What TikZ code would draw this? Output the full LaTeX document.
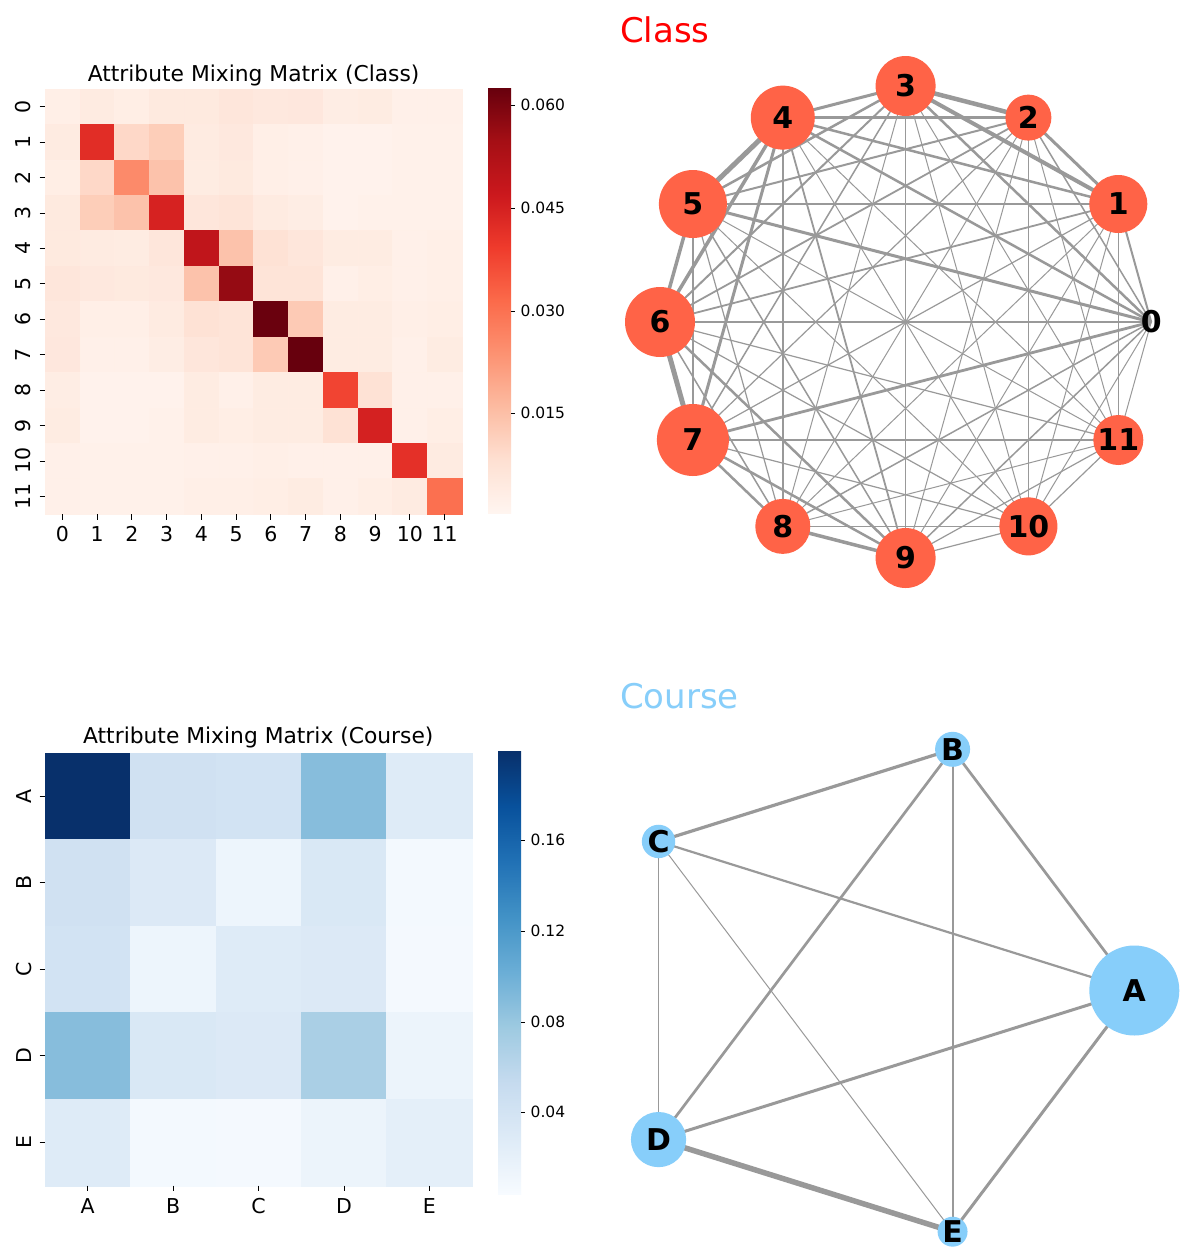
\documentclass[tikz,border=0pt]{standalone}
\usepackage{fontspec}
\setmainfont{DejaVu Sans}
\usetikzlibrary{calc,positioning}
\definecolor{reds0}{HTML}{FFF5F0}
\definecolor{reds1}{HTML}{FEE0D2}
\definecolor{reds2}{HTML}{FCBBA1}
\definecolor{reds3}{HTML}{FC9272}
\definecolor{reds4}{HTML}{FB6A4A}
\definecolor{reds5}{HTML}{EF3B2C}
\definecolor{reds6}{HTML}{CB181D}
\definecolor{reds7}{HTML}{A50F15}
\definecolor{reds8}{HTML}{67000D}
\definecolor{blues0}{HTML}{F7FBFF}
\definecolor{blues1}{HTML}{DEEBF7}
\definecolor{blues2}{HTML}{C6DBEF}
\definecolor{blues3}{HTML}{9ECAE1}
\definecolor{blues4}{HTML}{6BAED6}
\definecolor{blues5}{HTML}{4292C6}
\definecolor{blues6}{HTML}{2171B5}
\definecolor{blues7}{HTML}{08519C}
\definecolor{blues8}{HTML}{08306B}
\definecolor{tomatored}{HTML}{FF6347}
\definecolor{skyblue}{HTML}{87CEFA}
\definecolor{edgegray}{HTML}{999999}
\tikzstyle{vertex}=[circle,inner sep=0pt,font=\fontsize{30}{30}\selectfont\bfseries]
\tikzstyle{classvertex}=[vertex,fill=tomatored]
\tikzstyle{coursevertex}=[vertex,fill=skyblue]
\tikzstyle{graphedge}=[draw=edgegray]
\tikzstyle{tickmark}=[draw=black,line width=0.8pt]
\tikzstyle{ticklabel}=[inner sep=0pt,anchor=base,font=\fontsize{20.5}{20.5}\selectfont]
\tikzstyle{barlabel}=[inner sep=0pt,anchor=west,font=\fontsize{15.5}{15.5}\selectfont]
\tikzstyle{heattitle}=[inner sep=0pt,anchor=base,font=\fontsize{21.8}{21.8}\selectfont]
\tikzstyle{graphtitle}=[inner sep=0pt,anchor=base west,font=\fontsize{34}{34}\selectfont]
% colour of a cell: map name, value on 0..8
\newcommand\mapcol[2]{%
  \pgfmathtruncatemacro\lo{min(floor(#2),7)}%
  \pgfmathtruncatemacro\hi{\lo+1}%
  \pgfmathtruncatemacro\pc{round(100*(#2-\lo))}%
  \colorlet{cellcol}{#1\hi!\pc!#1\lo}}
\pgfdeclareverticalshading{redsbar}{100bp}{color(0bp)=(reds0); color(25bp)=(reds0); color(31.25bp)=(reds1); color(37.5bp)=(reds2); color(43.75bp)=(reds3); color(50bp)=(reds4); color(56.25bp)=(reds5); color(62.5bp)=(reds6); color(68.75bp)=(reds7); color(75bp)=(reds8); color(100bp)=(reds8)}
\pgfdeclareverticalshading{bluesbar}{100bp}{color(0bp)=(blues0); color(25bp)=(blues0); color(31.25bp)=(blues1); color(37.5bp)=(blues2); color(43.75bp)=(blues3); color(50bp)=(blues4); color(56.25bp)=(blues5); color(62.5bp)=(blues6); color(68.75bp)=(blues7); color(75bp)=(blues8); color(100bp)=(blues8)}
\pgfdeclarelayer{paper}
\pgfdeclarelayer{edges}
\pgfsetlayers{paper,edges,main}

\begin{document}
\begin{tikzpicture}[x=1pt,y=-1pt]
\begin{pgfonlayer}{paper}
\fill[white] (0,0) rectangle (1188,1248);
\end{pgfonlayer}
\useasboundingbox (0,0) rectangle (1188,1248);

% class mixing matrix
\node[heattitle] (classhead) at (253.6,81.7) {Attribute Mixing Matrix (Class)};
\foreach \row [count=\i from 0] in {
    {0.3,0.5,0.35,0.55,0.55,0.7,0.6,0.65,0.4,0.45,0.25,0.25},
    {0.5,5.4,1.2,1.5,0.5,0.6,0.3,0.25,0.15,0.15,0.2,0.2},
    {0.35,1.2,3.2,1.8,0.45,0.55,0.3,0.25,0.15,0.15,0.2,0.2},
    {0.55,1.5,1.8,5.7,0.7,0.8,0.5,0.4,0.15,0.2,0.2,0.2},
    {0.55,0.5,0.45,0.7,6.3,1.8,0.9,0.7,0.45,0.45,0.25,0.3},
    {0.7,0.6,0.55,0.6,1.8,7.25,0.8,0.8,0.25,0.35,0.25,0.3},
    {0.6,0.3,0.3,0.5,0.9,0.8,7.95,1.6,0.45,0.45,0.3,0.35},
    {0.65,0.25,0.25,0.4,0.7,0.8,1.6,8,0.45,0.45,0.25,0.45},
    {0.4,0.15,0.15,0.15,0.45,0.25,0.45,0.45,4.8,0.9,0.25,0.25},
    {0.45,0.15,0.15,0.2,0.45,0.35,0.45,0.45,0.9,5.75,0.25,0.35},
    {0.25,0.2,0.2,0.2,0.25,0.25,0.3,0.25,0.25,0.25,5.3,0.5},
    {0.25,0.2,0.2,0.2,0.3,0.3,0.35,0.45,0.25,0.35,0.5,3.85}} {
  \foreach \v [count=\j from 0] in \row {
    \mapcol{reds}{\v}
    \fill[cellcol,draw=cellcol,line width=0.4pt] ({45+34.75*\j},{89+35.42*\i}) rectangle ++(34.75,35.42);
  }
}
\foreach \t in {0,...,11} {
  \draw[tickmark] (39.5,{89+35.42*(\t+0.5)}) -- (45,{89+35.42*(\t+0.5)});
  \node[ticklabel,rotate=90] (cy\t) at (30.5,{89+35.42*(\t+0.5)}) {\t};
  \draw[tickmark] ({45+34.75*(\t+0.5)},514) -- ({45+34.75*(\t+0.5)},519.5);
  \node[ticklabel] (cx\t) at ({45+34.75*(\t+0.5)},541.7) {\t};
}
\shade[shading=redsbar] (488,88) rectangle (511,513);
\foreach \v/\y in {0.060/105,0.045/208,0.030/311,0.015/413} {
  \draw[tickmark] (511,\y) -- (515,\y);
  \node[barlabel] (cb\y) at (520.5,\y) {\v};
}

% class graph
\node[graphtitle,text=red] (classtitle) at (620,42.7) {Class};
\node[vertex] (k0) at (1151.2,322) {0};
\foreach \i/\r in {1/29,2/23,3/30,4/32,5/34,6/35,7/36,8/27.5,9/30,10/29,11/25}
  \node[classvertex,minimum size={2*\r pt}] (k\i) at ({905.6+245.6*cos(30*\i)},{322-236*sin(30*\i)}) {\i};
\begin{pgfonlayer}{edges}
\foreach \a/\b/\w in {0/1/2,0/2/1.5,0/3/2.5,0/4/2.5,0/5/3,0/6/2.5,0/7/2.8,0/8/1.5,0/9/1.5,0/10/1,0/11/1,
    1/2/3,1/3/4,1/4/2.5,1/5/2,1/6/1.8,1/7/1.2,1/8/1,1/9/1,1/10/1,1/11/1,
    2/3/4.5,2/4/2.5,2/5/2,2/6/1.8,2/7/1.2,2/8/1,2/9/1,2/10/1,2/11/1,
    3/4/3,3/5/2.5,3/6/2,3/7/1.5,3/8/1,3/9/1.2,3/10/1,3/11/1,
    4/5/5,4/6/3.5,4/7/3,4/8/1.8,4/9/1.8,4/10/1,4/11/1,
    5/6/3.5,5/7/2.5,5/8/1.2,5/9/1.5,5/10/1,5/11/1,
    6/7/5,6/8/1.5,6/9/2.5,6/10/1.2,6/11/1.2,
    7/8/2.5,7/9/2.5,7/10/1.2,7/11/1.2,
    8/9/3.5,8/10/1,8/11/1,
    9/10/1.2,9/11/1.2,10/11/1.2}
  \draw[graphedge,line width=\w pt] (k\a.center) -- (k\b.center);
\end{pgfonlayer}

% course mixing matrix
\node[heattitle] (coursehead) at (258.3,743.3) {Attribute Mixing Matrix (Course)};
\foreach \row [count=\i from 0] in {
    {8,1.6,1.5,3.45,1.0},
    {1.6,1.1,0.4,1.2,0.15},
    {1.5,0.4,1.0,1.1,0.12},
    {3.45,1.2,1.1,2.7,0.45},
    {1.0,0.15,0.12,0.45,0.75}} {
  \foreach \v [count=\j from 0] in \row {
    \mapcol{blues}{\v}
    \fill[cellcol,draw=cellcol,line width=0.4pt] ({45+85.4*\j},{752.7+86.6*\i}) rectangle ++(85.4,86.6);
  }
}
\foreach \t [count=\i from 0] in {A,B,C,D,E} {
  \draw[tickmark] (39.5,{752.7+86.6*(\i+0.5)}) -- (45,{752.7+86.6*(\i+0.5)});
  \node[ticklabel,rotate=90] (dy\t) at (31,{752.7+86.6*(\i+0.5)}) {\t};
  \draw[tickmark] ({45+85.4*(\i+0.5)},1185.7) -- ({45+85.4*(\i+0.5)},1191.2);
  \node[ticklabel] (dx\t) at ({45+85.4*(\i+0.5)},1213.3) {\t};
}
\shade[shading=bluesbar] (498,751) rectangle (521,1194);
\foreach \v/\y in {0.16/840,0.12/931,0.08/1022,0.04/1112} {
  \draw[tickmark] (521,\y) -- (525,\y);
  \node[barlabel] (db\y) at (530.5,\y) {\v};
}

% course graph
\node[graphtitle,text=skyblue] (coursetitle) at (620,708.3) {Course};
\foreach \n/\k/\r in {A/0/45,B/1/17.5,C/2/16.7,D/3/27.6,E/4/14.2}
  \node[coursevertex,minimum size={2*\r pt}] (c\n) at ({871.3+263*cos(72*\k)},{990.5-253.6*sin(72*\k)}) {\n};
\begin{pgfonlayer}{edges}
\foreach \a/\b/\w in {A/B/2.7,A/C/2.2,A/D/3,A/E/3,B/C/3.2,B/D/2.7,B/E/2,C/D/1.6,C/E/1,D/E/5.5}
  \draw[graphedge,line width=\w pt] (c\a.center) -- (c\b.center);
\end{pgfonlayer}
\end{tikzpicture}
\end{document}
